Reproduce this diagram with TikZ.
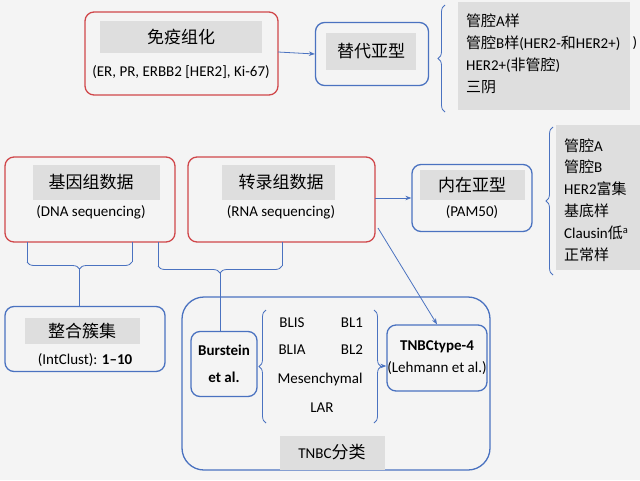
\documentclass[tikz,border=0pt]{standalone}
\usepackage{fontspec}
\setmainfont{Carlito}
\newfontfamily\cjk{Noto Sans CJK SC}
\usetikzlibrary{decorations.pathreplacing,arrows.meta}
\newcommand{\zh}[1]{{\cjk #1}}
\newcommand{\bigzh}[1]{{\cjk\fontsize{17}{19}\selectfont #1}}
\definecolor{redb}{HTML}{D0474A}
\definecolor{blueb}{HTML}{4A72C0}
\definecolor{lab}{HTML}{DEDEDE}
\definecolor{bg}{HTML}{F4F4F4}
\begin{document}
\begin{tikzpicture}[x=1pt,y=-1pt,
  redbox/.style={draw=redb,line width=1.3pt,rounded corners=9pt},
  bluebox/.style={draw=blueb,line width=1.3pt,rounded corners=9pt},
  labbox/.style={fill=lab,draw=none},
  txt/.style={font=\fontsize{15}{17}\selectfont,inner sep=0pt},
  conn/.style={draw=blueb,line width=0.8pt},
  arr/.style={conn,-{Stealth[length=6pt]}},
  brc/.style={conn,decorate,decoration={brace,amplitude=7pt}}]
\fill[bg] (0,0) rectangle (640,480);
\useasboundingbox (0,0) rectangle (640,480);
% top row
\draw[redbox] (85,12) rectangle (278,95);
\fill[labbox] (100,21) rectangle (262,53);
\node[txt] (ihc) at (181,37) {\bigzh{免疫组化}};
\node[txt] at (181,72) {(ER, PR, ERBB2 [HER2], Ki-67)};
\node[bluebox,minimum width=113pt,minimum height=63pt] (alt) at (372,54) {};
\fill[labbox] (326,33) rectangle (416,70);
\node[txt] at (371,51) {\bigzh{替代亚型}};
\coordinate (ihcR) at (278,52);
\draw[arr] (ihcR) -- (alt.west);
\draw[brc] (445,112) -- (445,5);
\fill[labbox] (458,2) rectangle (630,110);
\node[txt,anchor=west] at (466,21) {\zh{管腔}A\zh{样}};
\node[txt,anchor=west] at (466,43) {\zh{管腔}B\zh{样}(HER2-\zh{和}HER2+)};
\node[txt,anchor=west] at (466,65) {HER2+(\zh{非管腔})};
\node[txt,anchor=west] at (466,87) {\zh{三阴}};
\node[txt] at (635,43) {)};
% middle row
\draw[redbox] (5,157) rectangle (175,242);
\fill[labbox] (33,165) rectangle (160,200);
\node[txt] (gen) at (91,182) {\bigzh{基因组数据}};
\node[txt] at (91,212) {(DNA sequencing)};
\draw[redbox] (188,157) rectangle (375,242);
\fill[labbox] (222,165) rectangle (335,200);
\node[txt] (trn) at (281,182) {\bigzh{转录组数据}};
\node[txt] at (281,212) {(RNA sequencing)};
\node[bluebox,minimum width=120pt,minimum height=67pt] (intr) at (472,198) {};
\fill[labbox] (420,170) rectangle (525,200);
\node[txt] at (472,185) {\bigzh{内在亚型}};
\node[txt] at (472,212) {(PAM50)};
\coordinate (trnR) at (375,198);
\draw[arr] (trnR) -- (intr.west);
\draw[brc] (553,275) -- (553,127);
\fill[labbox] (556,125) rectangle (640,270);
\node[txt,anchor=west] at (564,146) {\zh{管腔}A};
\node[txt,anchor=west] at (564,167) {\zh{管腔}B};
\node[txt,anchor=west] at (564,189) {HER2\zh{富集}};
\node[txt,anchor=west] at (564,211) {\zh{基底样}};
\node[txt,anchor=west] at (564,233) {Clausin\zh{低}\textsuperscript{a}};
\node[txt,anchor=west] at (564,255) {\zh{正常样}};
% bottom
\node[bluebox,minimum width=160pt,minimum height=65pt] (int) at (85,339) {};
\fill[labbox] (25,318) rectangle (140,344);
\node[txt] at (82,331) {\bigzh{整合簇集}};
\node[txt] at (85,360) {(IntClust): \textbf{1–10}};
\draw[bluebox,rounded corners=22pt] (182,297) rectangle (490,470);
\fill[labbox] (280,436) rectangle (385,470);
\node[txt] at (332,452) {TNBC\bigzh{分类}};
\node[bluebox,minimum width=66pt,minimum height=65pt] (bur) at (224,364) {};
\node[txt,align=center,font=\fontsize{15}{27}\selectfont\bfseries] at (224,364) {Burstein\\et al.};
\node[bluebox,minimum width=100pt,minimum height=66pt] (tnt) at (437,358) {};
\node[txt,align=center,font=\fontsize{15}{22}\selectfont] at (437,358) {\textbf{TNBCtype-4}\\(Lehmann et al.)};
\node[txt] at (292,323) {BLIS};
\node[txt] at (352,323) {BL1};
\node[txt] at (292,350) {BLIA};
\node[txt] at (352,350) {BL2};
\node[txt] at (320,379) {Mesenchymal};
\node[txt] at (322,408) {LAR};
\draw[brc] (266,423) -- (266,310);
\draw[brc] (374,310) -- (374,423);
\coordinate (rb) at (381,366);
\draw[arr] (rb) -- (tnt.west |- rb);
% braces under data boxes
\draw[conn] (27,242) -- (27,262) (132,242) -- (132,262);
\draw[brc] (132,262) -- (27,262);
\draw[conn] (79.5,269) -- (int.north -| 79.5,0);
\draw[conn] (158,242) -- (158,266) (282,242) -- (282,266);
\draw[brc] (282,266) -- (158,266);
\draw[conn] (220,273) -- (bur.north -| 220,0);
\coordinate (trnB) at (378,228);
\draw[arr] (trnB) -- (tnt.north);
\end{tikzpicture}
\end{document}
